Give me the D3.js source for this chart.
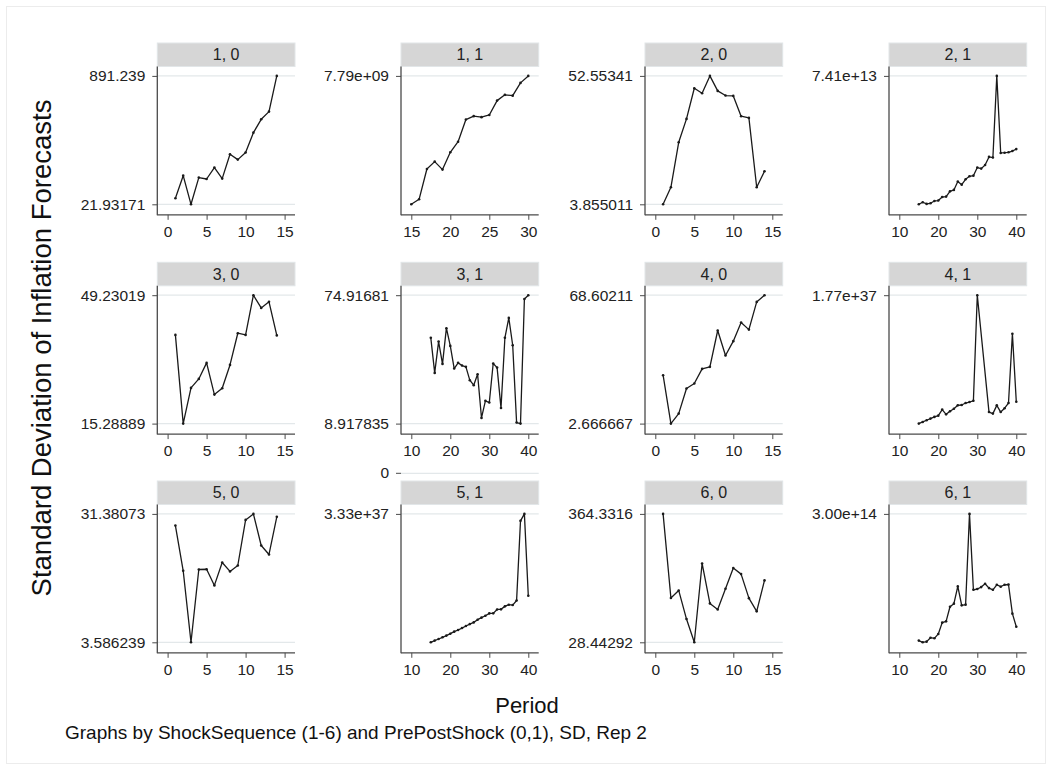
<!DOCTYPE html>
<html><head><meta charset="utf-8">
<script src="https://cdn.jsdelivr.net/npm/d3@7"></script>
<style>
body{margin:0;background:#fff}
text{font-family:"Liberation Sans",Arial,Helvetica,sans-serif}
</style>
</head><body>
<svg id="c" width="1052" height="770"></svg>
<script>
// ---- categories / periods ----
const panelLabels = ["1, 0","1, 1","2, 0","2, 1","3, 0","3, 1","4, 0","4, 1","5, 0","5, 1","6, 0","6, 1"];
const periodA = [1,2,3,4,5,6,7,8,9,10,11,12,13,14];
const periodB = [15,16,17,18,19,20,21,22,23,24,25,26,27,28,29,30];
const periodC = [15,16,17,18,19,20,21,22,23,24,25,26,27,28,29,30,31,32,33,34,35,36,37,38,39,40];
// ---- x tick labels ----
const xTicksA = [0,5,10,15];
const xTicksB = [15,20,25,30];
const xTicksC = [10,20,30,40];
// ---- series values (SD of inflation forecasts) ----
const sd10 = [62.8,215.8,21.93171,202.7,193.2,270.5,195.8,361.0,324.4,372.3,507.0,597.4,649.6,891.239];
const sd11 = [1.35e9,1.60e9,3.12e9,3.49e9,3.09e9,3.96e9,4.49e9,5.60e9,5.77e9,5.72e9,5.83e9,6.55e9,6.84e9,6.80e9,7.44e9,7.79e9];
const sd20 = [3.855011,10.31,27.38,36.24,47.88,45.98,52.55341,46.86,45.10,44.96,37.26,36.63,10.31,16.37];
const sd21 = [2.50e12,3.65e12,2.71e12,3.07e12,4.36e12,4.58e12,6.58e12,6.80e12,9.73e12,1.052e13,1.517e13,1.345e13,1.646e13,1.811e13,1.847e13,2.298e13,2.240e13,2.441e13,2.892e13,2.856e13,7.41e13,3.114e13,3.128e13,3.15e13,3.221e13,3.329e13];
const sd30 = [38.74,15.28889,24.73,27.10,31.34,22.96,24.62,30.80,39.18,38.74,49.23019,45.87,47.47,38.60];
const sd31 = [53.01,34.99,51.09,39.61,57.96,48.85,37.23,40.14,38.75,38.09,31.23,28.65,34.26,11.82,20.60,19.74,39.81,37.69,16.97,53.01,63.24,49.18,9.45,8.917835,73.0,74.91681];
const sd40 = [27.52,2.666667,7.81,20.67,23.24,30.76,31.81,50.47,37.61,45.00,54.56,50.93,65.17,68.60211];
const sd41 = [1.00e35,3.29e35,5.58e35,7.86e35,1.015e36,1.191e36,2.018e36,1.367e36,1.79e36,2.14e36,2.60e36,2.65e36,2.92e36,3.06e36,3.23e36,1.77e37,null,null,1.68e36,1.47e36,2.60e36,1.68e36,2.21e36,2.92e36,1.242e37,3.09e36];
const sd50 = [28.86,19.07,3.586239,19.35,19.40,15.90,20.87,18.93,20.21,30.08,31.38073,24.54,22.60,30.74];
const sd51 = [2.00e36,2.41e36,2.81e36,3.22e36,3.63e36,4.10e36,4.60e36,5.00e36,5.47e36,5.98e36,6.44e36,6.85e36,7.51e36,8.01e36,8.48e36,9.04e36,9.06e36,1.001e37,1.003e37,1.076e37,1.117e37,1.108e37,1.220e37,3.161e37,3.33e37,1.336e37];
const sd60 = [364.3316,144.32,164.14,89.24,28.44292,234.68,130.21,114.43,168.51,222.58,206.80,144.0,109.39,190.34];
const sd61 = [1.38e13,1.00e13,1.15e13,2.04e13,1.90e13,2.89e13,5.44e13,5.73e13,9.03e13,9.73e13,1.362e14,9.35e13,9.50e13,3.00e14,1.286e14,1.304e14,1.347e14,1.422e14,1.324e14,1.286e14,1.399e14,1.356e14,1.399e14,1.405e14,7.47e13,4.51e13];
// ---- y tick labels (min, max) ----
const yLab10 = ["21.93171","891.239"];
const yLab11 = ["7.79e+09"];
const yLab20 = ["3.855011","52.55341"];
const yLab21 = ["7.41e+13"];
const yLab30 = ["15.28889","49.23019"];
const yLab31 = ["8.917835","74.91681"];
const yLab40 = ["2.666667","68.60211"];
const yLab41 = ["1.77e+37"];
const yLab50 = ["3.586239","31.38073"];
const yLab51 = ["3.33e+37"];
const yLab60 = ["28.44292","364.3316"];
const yLab61 = ["3.00e+14"];
const strayLab51 = ["0"];
// ---- titles ----
const yTitle = "Standard Deviation of Inflation Forecasts";
const xTitle = "Period";
const noteText = "Graphs by ShockSequence (1-6) and PrePostShock (0,1), SD, Rep 2";

const panels = [
  {x:periodA,y:sd10,xt:xTicksA,yl:yLab10},{x:periodB,y:sd11,xt:xTicksB,yl:yLab11},
  {x:periodA,y:sd20,xt:xTicksA,yl:yLab20},{x:periodC,y:sd21,xt:xTicksC,yl:yLab21},
  {x:periodA,y:sd30,xt:xTicksA,yl:yLab30},{x:periodC,y:sd31,xt:xTicksC,yl:yLab31},
  {x:periodA,y:sd40,xt:xTicksA,yl:yLab40},{x:periodC,y:sd41,xt:xTicksC,yl:yLab41},
  {x:periodA,y:sd50,xt:xTicksA,yl:yLab50},{x:periodC,y:sd51,xt:xTicksC,yl:yLab51,stray:strayLab51},
  {x:periodA,y:sd60,xt:xTicksA,yl:yLab60},{x:periodC,y:sd61,xt:xTicksC,yl:yLab61}
];

const svg = d3.select("#c");
svg.append("rect").attr("x",0).attr("y",0).attr("width",1052).attr("height",770).attr("fill","#fff");
svg.append("rect").attr("x",6.5).attr("y",6.5).attr("width",1039).attr("height",757)
  .attr("fill","none").attr("stroke","#ececec");

const colLeft = [157.3, 401.0, 645.0, 889.0];
const rowTop = [43, 262.3, 481];
const pw = 137.7, hh = 23.5, ph = 148.3;
const FS = 15.5;
const gridCol = "#e3e8ea", axisCol = "#4a4a4a", ink = "#1a1a1a";

panels.forEach((p,i) => {
  const c = i % 4, r = Math.floor(i/4);
  const L = colLeft[c], T = rowTop[r], HB = T + hh, B = HB + ph, R = L + pw;
  const pts = p.x.map((xv,k) => ({x:xv, y:p.y[k]})).filter(d => d.y != null);
  const ext = d3.extent(pts, d => d.y);
  const xs = d3.scaleLinear().domain([p.xt[0], p.xt[p.xt.length-1]]).range([L+10.3, R-10.4]);
  const ys = d3.scaleLinear().domain(ext).range([B-10.5, HB+9.4]);
  const g = svg.append("g");

  // header strip
  g.append("rect").attr("x",L).attr("y",T).attr("width",pw).attr("height",hh)
    .attr("fill","#d6d6d6").attr("stroke","#e2e6e8").attr("stroke-width",1);
  g.append("text").attr("x",L+pw/2).attr("y",T+hh/2+5.7).attr("text-anchor","middle")
    .attr("font-size",16).attr("fill","#222").text(panelLabels[i]);

  // y tick values
  const yVals = p.yl.length === 2 ? [ext[0], ext[1]] : [ext[1]];
  g.selectAll("line.grid").data(yVals).join("line").attr("class","grid")
    .attr("x1",L).attr("x2",R).attr("y1",d=>ys(d)).attr("y2",d=>ys(d))
    .attr("stroke",gridCol).attr("stroke-width",1.2);

  const yAx = d3.axisLeft(ys).tickValues(yVals).tickFormat((d,k)=>p.yl[k]).tickSize(5).tickPadding(7);
  const ya = g.append("g").attr("transform",`translate(${L},0)`).call(yAx);
  ya.select(".domain").remove();
  ya.selectAll("line").attr("stroke",axisCol);
  ya.selectAll("text").attr("font-size",FS).attr("fill","#222").style("font-family",'"Liberation Sans",Arial,sans-serif');

  const xAx = d3.axisBottom(xs).tickValues(p.xt).tickFormat(d3.format("d")).tickSize(5).tickPadding(6);
  const xa = g.append("g").attr("transform",`translate(0,${B})`).call(xAx);
  xa.select(".domain").remove();
  xa.selectAll("line").attr("stroke",axisCol);
  xa.selectAll("text").attr("font-size",FS).attr("fill","#222").style("font-family",'"Liberation Sans",Arial,sans-serif');

  // axis lines
  g.append("line").attr("x1",L).attr("x2",L).attr("y1",HB).attr("y2",B+0.5).attr("stroke",axisCol).attr("stroke-width",1.3);
  g.append("line").attr("x1",L).attr("x2",R).attr("y1",B).attr("y2",B).attr("stroke",axisCol).attr("stroke-width",1.3);

  // stray label above header (panel 5,1)
  if (p.stray) {
    const sy = T - 7.7;
    g.append("line").attr("x1",L).attr("x2",R).attr("y1",sy).attr("y2",sy).attr("stroke",gridCol).attr("stroke-width",1.2);
    g.append("line").attr("x1",L-5).attr("x2",L).attr("y1",sy).attr("y2",sy).attr("stroke",axisCol);
    g.append("text").attr("x",L-12).attr("y",sy).attr("dy","0.32em").attr("text-anchor","end")
      .attr("font-size",FS).attr("fill","#222").text(p.stray[0]);
  }

  // series line + points
  const line = d3.line().x(d=>xs(d.x)).y(d=>ys(d.y));
  g.append("path").datum(pts).attr("d",line).attr("fill","none").attr("stroke",ink)
    .attr("stroke-width",1.3).attr("stroke-linejoin","round");
  g.selectAll("circle").data(pts).join("circle").attr("cx",d=>xs(d.x)).attr("cy",d=>ys(d.y))
    .attr("r",1.3).attr("fill",ink);
});

// titles
svg.append("text").attr("transform","translate(51,348) rotate(-90)").attr("text-anchor","middle")
  .attr("font-size",27.5).attr("fill","#111").text(yTitle);
svg.append("text").attr("x",527).attr("y",713).attr("text-anchor","middle")
  .attr("font-size",22).attr("fill","#111").text(xTitle);
svg.append("text").attr("x",65).attr("y",739)
  .attr("font-size",19).attr("fill","#111").text(noteText);
</script>
</body></html>
